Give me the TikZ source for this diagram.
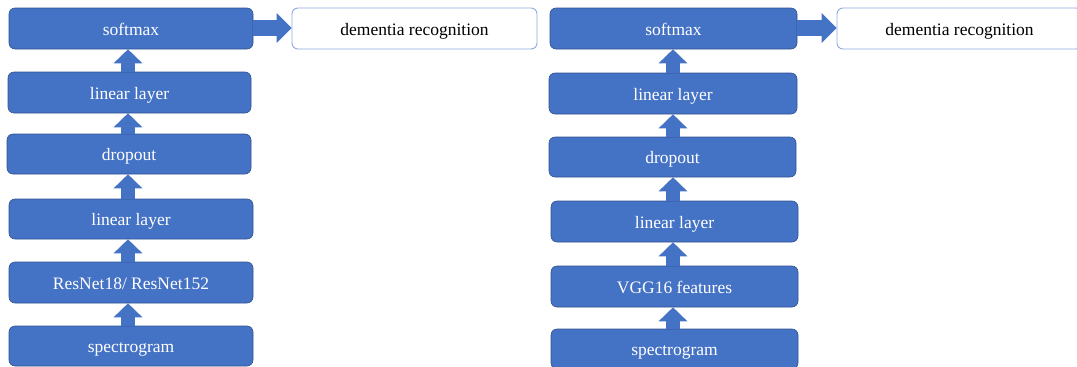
\documentclass[tikz,border=0pt]{standalone}
\usepackage{fontspec}
\setmainfont{Liberation Serif}
\usetikzlibrary{arrows.meta}
\definecolor{boxblue}{HTML}{4472C4}
\definecolor{boxedge}{HTML}{2F528F}
\definecolor{outedge}{HTML}{8FAADC}
\tikzset{
  layer/.style={draw=boxedge, line width=0.6pt, fill=boxblue, rounded corners=6pt,
    inner sep=0pt, text=white, text height=13pt, text depth=0pt,
    font=\fontsize{17.5}{20}\selectfont},
  result/.style={draw=outedge, line width=0.9pt, fill=white, rounded corners=6pt,
    inner sep=0pt, text=black, text height=13pt, text depth=0pt,
    font=\fontsize{17.5}{20}\selectfont},
  uparr/.style={draw=boxblue, line width=14pt, line cap=butt,
    -{Triangle[width=28pt,length=14pt]}},
  rightarr/.style={draw=boxblue, line width=16pt, line cap=butt,
    -{Triangle[width=29pt,length=15pt]}}
}
\begin{document}
\begin{tikzpicture}[x=1pt,y=-1pt]
\useasboundingbox (0,0) rectangle (1077,367);
% left column
\node[layer, minimum width=244pt, minimum height=41pt] (smL) at (131,28.5) {softmax};
\node[layer, minimum width=243pt, minimum height=41pt] (l1L) at (129.5,92.5) {linear layer};
\node[layer, minimum width=244pt, minimum height=40pt] (dpL) at (129,154) {dropout};
\node[layer, minimum width=244pt, minimum height=40pt] (l2L) at (131,219) {linear layer};
\node[layer, minimum width=244pt, minimum height=41pt] (rnL) at (131,282.5) {ResNet18/ ResNet152};
\node[layer, minimum width=244pt, minimum height=40pt] (spL) at (131,346) {spectrogram};
\node[result, minimum width=245pt, minimum height=41pt] (demL) at (414.5,28.5) {dementia recognition};
% right column
\node[layer, minimum width=247pt, minimum height=41pt] (smR) at (673.5,28.5) {softmax};
\node[layer, minimum width=248pt, minimum height=41pt] (l1R) at (673,93.5) {linear layer};
\node[layer, minimum width=247pt, minimum height=40pt] (dpR) at (672.5,157) {dropout};
\node[layer, minimum width=247pt, minimum height=41pt] (l2R) at (674.5,221.5) {linear layer};
\node[layer, minimum width=247pt, minimum height=41pt] (vgR) at (674.5,286.5) {VGG16 features};
\node[layer, minimum width=247pt, minimum height=40pt] (spR) at (674.5,349) {spectrogram};
\node[result, minimum width=245pt, minimum height=41pt] (demR) at (959.5,28.5) {dementia recognition};
% left arrows
\draw[uparr] ([xshift=-3pt]spL.north) -- ([xshift=-3pt]rnL.south);
\draw[uparr] ([xshift=-3pt]rnL.north) -- ([xshift=-3pt]l2L.south);
\draw[uparr] ([xshift=-3pt]l2L.north) -- ([xshift=-1pt]dpL.south);
\draw[uparr] ([xshift=-1pt]dpL.north) -- ([xshift=-1.5pt]l1L.south);
\draw[uparr] ([xshift=-1.5pt]l1L.north) -- ([xshift=-3pt]smL.south);
\draw[rightarr] ([yshift=0.5pt]smL.east) -- ([yshift=0.5pt]demL.west);
% right arrows
\draw[uparr] ([xshift=-1.5pt]spR.north) -- ([xshift=-1.5pt]vgR.south);
\draw[uparr] ([xshift=-1.5pt]vgR.north) -- ([xshift=-1.5pt]l2R.south);
\draw[uparr] ([xshift=-1.5pt]l2R.north) -- ([xshift=0.5pt]dpR.south);
\draw[uparr] ([xshift=0.5pt]dpR.north) -- (l1R.south);
\draw[uparr] (l1R.north) -- ([xshift=-0.5pt]smR.south);
\draw[rightarr] ([yshift=0.5pt]smR.east) -- ([yshift=0.5pt]demR.west);
\end{tikzpicture}
\end{document}
